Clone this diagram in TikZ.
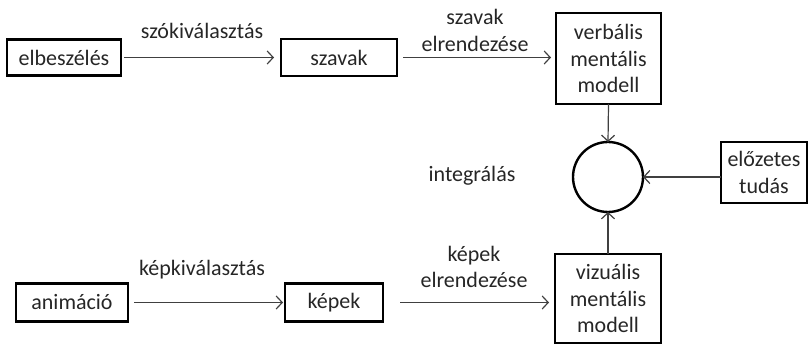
\documentclass[tikz,border=0pt]{standalone}
\usepackage{fontspec}
\setmainfont{Carlito}
\usetikzlibrary{arrows.meta}
\definecolor{txt}{HTML}{262626}
\definecolor{ln}{HTML}{404040}
\begin{document}
\begin{tikzpicture}[x=1pt,y=-1pt,
  every node/.style={font=\fontsize{22}{26.7}\selectfont, text=txt, inner sep=0pt, outer sep=0pt},
  box/.style={draw=black, line width=2.4pt, align=center},
  lbl/.style={anchor=base},
  conn/.style={draw=ln, line width=1.2pt, -{Straight Barb[length=6pt,width=13pt,line width=1.2pt]}}]
\useasboundingbox (0,0) rectangle (808,344);
% row 1
\node[box, minimum width=114pt, minimum height=36pt] (elb) at (64,57.5) {elbeszélés};
\node[box, minimum width=116pt, minimum height=37pt] (szavak) at (339,57.5) {szavak};
\node[box, minimum width=105pt, minimum height=91pt] (verb) at (608.5,58.5) {verbális\\mentális\\modell};
% middle
\node[draw=black, line width=2.4pt, circle, minimum size=70pt] (int) at (608,177) {};
\node[box, minimum width=86pt, minimum height=61pt] (elo) at (764,172.5) {előzetes\\tudás};
\node[lbl] (intl) at (472,182) {integrálás};
% row 2
\node[box, minimum width=112pt, minimum height=38pt] (anim) at (72,302.5) {animáció};
\node[box, minimum width=98pt, minimum height=38pt] (kepek) at (334,302.5) {képek};
\node[box, minimum width=106pt, minimum height=89pt] (viz) at (608,298.5) {vizuális\\mentális\\modell};
% labels
\node[lbl] (l1) at (202,39) {szókiválasztás};
\node[lbl] (l2a) at (475,25) {szavak};
\node[lbl] (l2b) at (475,51.7) {elrendezése};
\node[lbl] (l3) at (202,276) {képkiválasztás};
\node[lbl] (l4a) at (474,261.5) {képek};
\node[lbl] (l4b) at (474,288) {elrendezése};
% connectors
\draw[conn, shorten <=3pt, shorten >=7pt] (elb.east) -- (szavak.west);
\draw[conn, shorten <=6pt, shorten >=5pt] (szavak.east) -- (szavak.east -| verb.west);
\draw[conn] (verb.south) -- (int.north);
\draw[conn] (elo.west |- int.east) -- (int.east);
\draw[conn] (viz.north) -- (int.south);
\draw[conn, shorten <=6pt, shorten >=2pt] (anim.east) -- (kepek.west);
\draw[conn, shorten <=17pt, shorten >=6pt] (kepek.east) -- (kepek.east -| viz.west);
\end{tikzpicture}
\end{document}
